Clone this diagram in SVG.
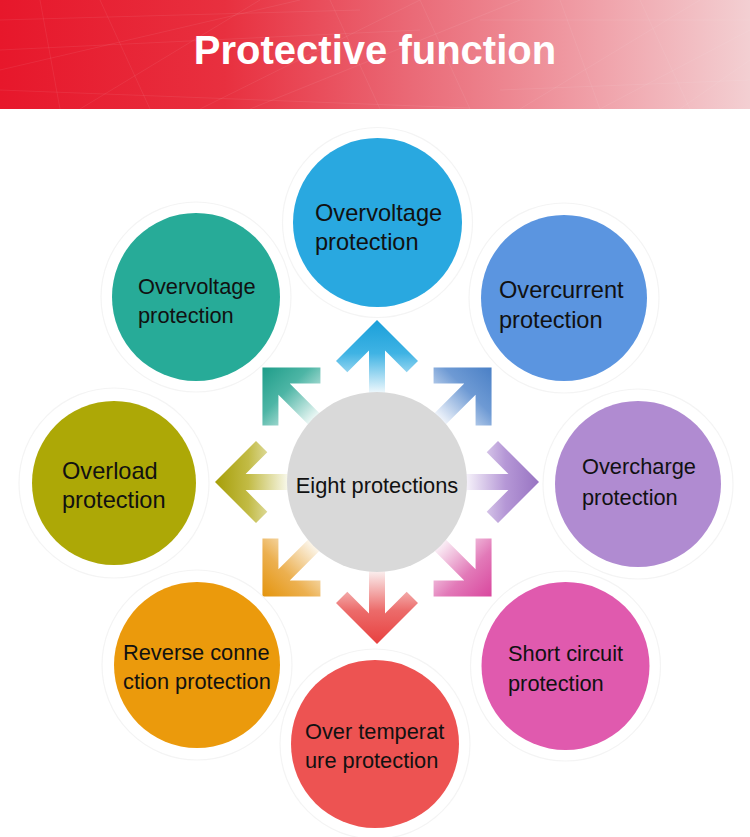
<svg xmlns="http://www.w3.org/2000/svg" width="750" height="837" viewBox="0 0 750 837">
<style>
.lbl{font-family:"Liberation Sans",Arial,sans-serif;font-size:21.8px;fill:#111}
.big{font-size:23.6px}
.ring{fill:none;stroke:#f4f4f4;stroke-width:1.2}
.mesh{fill:none;stroke:#fff;stroke-opacity:0.1;stroke-width:0.7}
</style>
<defs>
<linearGradient id="hdr" x1="0" y1="0" x2="1" y2="0">
<stop offset="0" stop-color="#e7172b"/>
<stop offset="0.3" stop-color="#e8303f"/>
<stop offset="0.55" stop-color="#ea6a77"/>
<stop offset="0.8" stop-color="#f0a2aa"/>
<stop offset="1" stop-color="#f3cfd2"/>
</linearGradient>
<linearGradient id="g0" gradientUnits="userSpaceOnUse" x1="0" y1="-162" x2="0" y2="-88"><stop offset="0" stop-color="#1a9fd9"/><stop offset="0.45" stop-color="#3fb3e4"/><stop offset="1" stop-color="#f4fafd"/></linearGradient>
<linearGradient id="g1" gradientUnits="userSpaceOnUse" x1="0" y1="-162" x2="0" y2="-88"><stop offset="0" stop-color="#4a80c6"/><stop offset="0.45" stop-color="#6e9ad4"/><stop offset="1" stop-color="#f4f7fc"/></linearGradient>
<linearGradient id="g2" gradientUnits="userSpaceOnUse" x1="0" y1="-162" x2="0" y2="-88"><stop offset="0" stop-color="#9874c2"/><stop offset="0.45" stop-color="#b597d6"/><stop offset="1" stop-color="#f8f5fb"/></linearGradient>
<linearGradient id="g3" gradientUnits="userSpaceOnUse" x1="0" y1="-162" x2="0" y2="-88"><stop offset="0" stop-color="#d9479e"/><stop offset="0.45" stop-color="#e279b8"/><stop offset="1" stop-color="#fbf3f8"/></linearGradient>
<linearGradient id="g4" gradientUnits="userSpaceOnUse" x1="0" y1="-162" x2="0" y2="-88"><stop offset="0" stop-color="#e8403f"/><stop offset="0.45" stop-color="#ec6b6a"/><stop offset="1" stop-color="#fbf3f3"/></linearGradient>
<linearGradient id="g5" gradientUnits="userSpaceOnUse" x1="0" y1="-162" x2="0" y2="-88"><stop offset="0" stop-color="#e4940c"/><stop offset="0.45" stop-color="#ecb050"/><stop offset="1" stop-color="#fcf8f0"/></linearGradient>
<linearGradient id="g6" gradientUnits="userSpaceOnUse" x1="0" y1="-162" x2="0" y2="-88"><stop offset="0" stop-color="#a69e08"/><stop offset="0.45" stop-color="#c2bb45"/><stop offset="1" stop-color="#fafaf0"/></linearGradient>
<linearGradient id="g7" gradientUnits="userSpaceOnUse" x1="0" y1="-162" x2="0" y2="-88"><stop offset="0" stop-color="#1e9d89"/><stop offset="0.45" stop-color="#4db5a5"/><stop offset="1" stop-color="#f2faf8"/></linearGradient>
</defs>

<g id="header">
<rect x="0" y="0" width="750" height="109" fill="url(#hdr)"/>
<path class="mesh" d="M0 20 L360 10 M0 50 L420 30 M0 90 L470 108 M40 0 L60 109 M100 0 L150 109 M330 0 L380 109 M420 0 L470 109 M560 0 L600 109 M640 0 L690 109 M480 20 L750 20 M500 90 L750 80 M200 109 L420 0 M250 109 L520 0 M600 109 L750 30 M0 70 L300 0 M80 109 L260 0 M520 109 L700 0 M680 109 L750 60"/>
<text x="375" y="64" text-anchor="middle" font-family="'Liberation Sans',Arial,sans-serif" font-size="40" font-weight="bold" fill="#fff">Protective function</text>
</g>

<g id="connectors">
<path fill="url(#g0)" transform="translate(377,482) rotate(0)" d="M0 -162 L41 -121 L29.7 -109.7 L8 -131.4 L8 -85 L-8 -85 L-8 -131.4 L-29.7 -109.7 L-41 -121 Z"/>
<path fill="url(#g1)" transform="translate(377,482) rotate(45)" d="M0 -162 L41 -121 L29.7 -109.7 L8 -131.4 L8 -85 L-8 -85 L-8 -131.4 L-29.7 -109.7 L-41 -121 Z"/>
<path fill="url(#g2)" transform="translate(377,482) rotate(90)" d="M0 -162 L41 -121 L29.7 -109.7 L8 -131.4 L8 -85 L-8 -85 L-8 -131.4 L-29.7 -109.7 L-41 -121 Z"/>
<path fill="url(#g3)" transform="translate(377,482) rotate(135)" d="M0 -162 L41 -121 L29.7 -109.7 L8 -131.4 L8 -85 L-8 -85 L-8 -131.4 L-29.7 -109.7 L-41 -121 Z"/>
<path fill="url(#g4)" transform="translate(377,482) rotate(180)" d="M0 -162 L41 -121 L29.7 -109.7 L8 -131.4 L8 -85 L-8 -85 L-8 -131.4 L-29.7 -109.7 L-41 -121 Z"/>
<path fill="url(#g5)" transform="translate(377,482) rotate(225)" d="M0 -162 L41 -121 L29.7 -109.7 L8 -131.4 L8 -85 L-8 -85 L-8 -131.4 L-29.7 -109.7 L-41 -121 Z"/>
<path fill="url(#g6)" transform="translate(377,482) rotate(270)" d="M0 -162 L41 -121 L29.7 -109.7 L8 -131.4 L8 -85 L-8 -85 L-8 -131.4 L-29.7 -109.7 L-41 -121 Z"/>
<path fill="url(#g7)" transform="translate(377,482) rotate(315)" d="M0 -162 L41 -121 L29.7 -109.7 L8 -131.4 L8 -85 L-8 -85 L-8 -131.4 L-29.7 -109.7 L-41 -121 Z"/>
</g>

<g id="n-top">
<circle class="ring" cx="377.5" cy="222.5" r="95"/>
<circle cx="377.5" cy="222.5" r="84.5" fill="#29a8e0"/>
<text class="lbl big" x="315" y="221">Overvoltage</text>
<text class="lbl big" x="315" y="250">protection</text>
</g>
<g id="n-topleft">
<circle class="ring" cx="196" cy="297" r="95"/>
<circle cx="196" cy="297" r="84" fill="#27ab98"/>
<text class="lbl" x="138" y="294">Overvoltage</text>
<text class="lbl" x="138" y="323">protection</text>
</g>
<g id="n-topright">
<circle class="ring" cx="564" cy="298" r="95"/>
<circle cx="564" cy="298" r="83" fill="#5b95e0"/>
<text class="lbl big" x="499" y="298">Overcurrent</text>
<text class="lbl big" x="499" y="328">protection</text>
</g>
<g id="n-right">
<circle class="ring" cx="638" cy="484" r="95"/>
<circle cx="638" cy="484" r="83" fill="#b08bd1"/>
<text class="lbl" x="582" y="474">Overcharge</text>
<text class="lbl" x="582" y="505">protection</text>
</g>
<g id="n-bottomright">
<circle class="ring" cx="565.5" cy="666" r="95"/>
<circle cx="565.5" cy="666" r="84" fill="#e05aae"/>
<text class="lbl" x="508" y="661">Short circuit</text>
<text class="lbl" x="508" y="691">protection</text>
</g>
<g id="n-bottom">
<circle class="ring" cx="375" cy="744" r="95"/>
<circle cx="375" cy="744" r="84" fill="#ed5352"/>
<text class="lbl" x="305" y="739">Over temperat</text>
<text class="lbl" x="305" y="768">ure protection</text>
</g>
<g id="n-bottomleft">
<circle class="ring" cx="197" cy="665" r="95"/>
<circle cx="197" cy="665" r="83" fill="#eb9a0c"/>
<text class="lbl" x="123" y="660">Reverse conne</text>
<text class="lbl" x="123" y="689">ction protection</text>
</g>
<g id="n-left">
<circle class="ring" cx="114" cy="483" r="95"/>
<circle cx="114" cy="483" r="82" fill="#ada806"/>
<text class="lbl big" x="62" y="479">Overload</text>
<text class="lbl big" x="62" y="508">protection</text>
</g>
<g id="n-center">
<circle cx="377" cy="482" r="90" fill="#d9d9d9"/>
<text class="lbl" x="377" y="493" text-anchor="middle">Eight protections</text>
</g>
</svg>
